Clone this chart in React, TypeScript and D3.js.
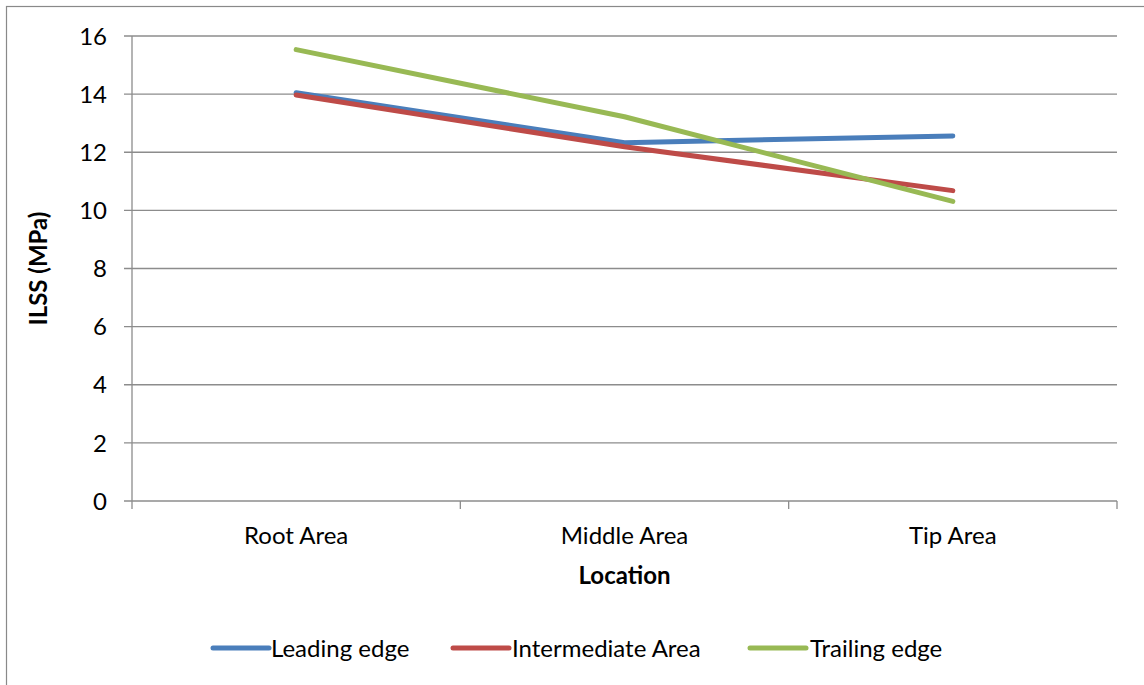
import React from "react";
import * as d3 from "d3";

const categories = ["Root Area", "Middle Area", "Tip Area"];
const leadingEdge = [14.05, 12.33, 12.56];
const intermediateArea = [13.97, 12.19, 10.68];
const trailingEdge = [15.53, 13.22, 10.31];
const yTicks = [0, 2, 4, 6, 8, 10, 12, 14, 16];

const series = [
  { name: "Leading edge", values: leadingEdge, color: "#4A7EBB" },
  { name: "Intermediate Area", values: intermediateArea, color: "#BE4B48" },
  { name: "Trailing edge", values: trailingEdge, color: "#98B954" },
];

const W = 1144;
const H = 685;
const left = 132;
const right = 1117;
const top = 36;
const bottom = 501;
const font = "Lato, Carlito, Calibri, sans-serif";
const fs = 24;

export default function App() {
  const x = d3.scaleBand<string>().domain(categories).range([left, right]);
  const y = d3.scaleLinear().domain([0, 16]).range([bottom, top]);
  const line = d3
    .line<number>()
    .x((_, i) => (x(categories[i]) as number) + x.bandwidth() / 2)
    .y((d) => y(d));
  const boundaries = [...categories.map((c) => x(c) as number), right];
  const legendItems = [
    { x: 213, textX: 271 },
    { x: 453, textX: 512 },
    { x: 750, textX: 810 },
  ];
  return (
    <svg
      width={W}
      height={H}
      style={{ position: "absolute", left: 0, top: 0 }}
    >
      <rect x={0} y={0} width={W} height={H} fill="#fff" />
      <rect
        x={6.5}
        y={6.5}
        width={W + 10}
        height={H + 10}
        fill="none"
        stroke="#898989"
        strokeWidth={1.2}
      />
      {yTicks.map((t) => (
        <g key={t}>
          <line
            x1={124}
            x2={right}
            y1={y(t)}
            y2={y(t)}
            stroke="#8c8c8c"
            strokeWidth={1.3}
          />
          <text
            x={107}
            y={y(t)}
            dy="0.36em"
            textAnchor="end"
            fontFamily={font}
            fontSize={fs}
            fill="#000"
          >
            {t}
          </text>
        </g>
      ))}
      <line x1={left} x2={left} y1={top} y2={bottom} stroke="#8c8c8c" strokeWidth={1.3} />
      {boundaries.map((b, i) => (
        <line key={i} x1={b} x2={b} y1={bottom} y2={bottom + 8} stroke="#8c8c8c" strokeWidth={1.3} />
      ))}
      {categories.map((c) => (
        <text
          key={c}
          x={(x(c) as number) + x.bandwidth() / 2}
          y={544}
          textAnchor="middle"
          fontFamily={font}
          fontSize={fs}
          fill="#000"
        >
          {c}
        </text>
      ))}
      <text
        x={(left + right) / 2}
        y={584}
        textAnchor="middle"
        fontFamily={font}
        fontSize={fs}
        fontWeight="bold"
        fill="#000"
      >
        Location
      </text>
      <text
        transform={`translate(47,${(top + bottom) / 2}) rotate(-90)`}
        textAnchor="middle"
        fontFamily={font}
        fontSize={fs}
        fontWeight="bold"
        fill="#000"
      >
        ILSS (MPa)
      </text>
      {series.map((s) => (
        <path
          key={s.name}
          d={line(s.values) as string}
          fill="none"
          stroke={s.color}
          strokeWidth={5}
          strokeLinecap="round"
          strokeLinejoin="round"
        />
      ))}
      {series.map((s, i) => (
        <g key={s.name}>
          <line
            x1={legendItems[i].x}
            x2={legendItems[i].x + 56}
            y1={648}
            y2={648}
            stroke={s.color}
            strokeWidth={5}
            strokeLinecap="round"
          />
          <text
            x={legendItems[i].textX}
            y={648}
            dy="0.36em"
            fontFamily={font}
            fontSize={fs}
            fill="#000"
          >
            {s.name}
          </text>
        </g>
      ))}
    </svg>
  );
}
